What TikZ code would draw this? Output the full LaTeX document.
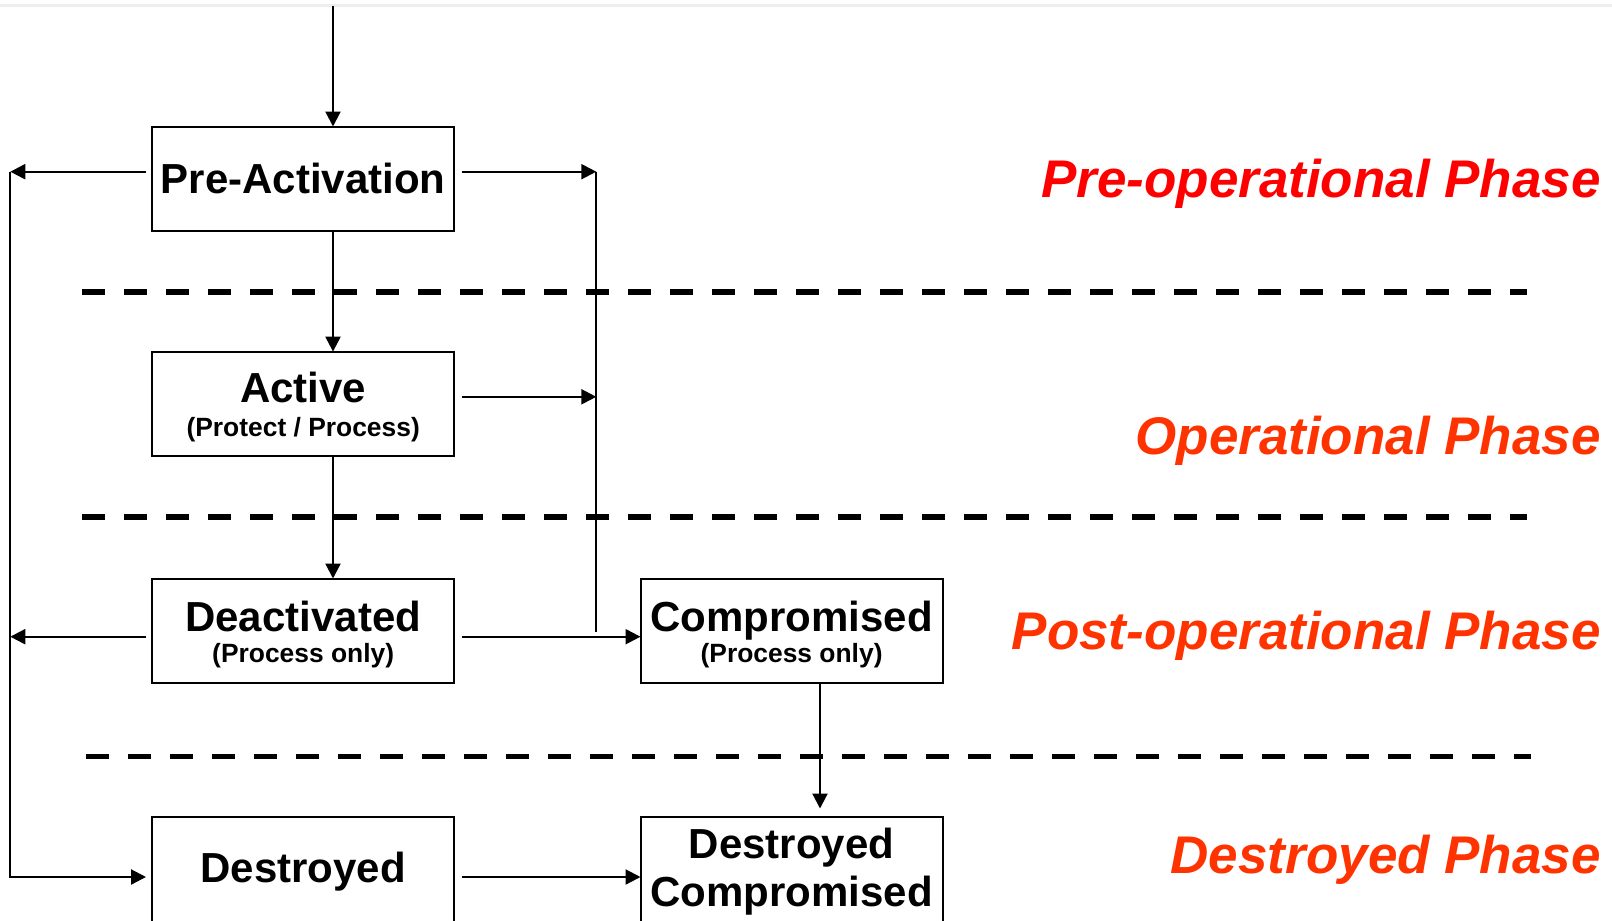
\documentclass[tikz,border=0pt]{standalone}
\usepackage{fontspec}
\setmainfont{Liberation Sans}
\usetikzlibrary{arrows.meta,calc}
\definecolor{prered}{HTML}{FF0000}
\definecolor{phasered}{HTML}{FF3300}
\definecolor{edgegray}{HTML}{EEEEEE}
\begin{document}
\begin{tikzpicture}[x=1pt,y=-1pt,
  statebox/.style={draw=black, line width=2pt, rectangle, inner sep=0pt, outer sep=0pt,
    anchor=north west, minimum width=302.4pt, minimum height=104.8pt},
  title/.style={inner sep=0pt, anchor=base, font=\bfseries\fontsize{42}{48}\selectfont},
  subtitle/.style={inner sep=0pt, anchor=base, font=\bfseries\fontsize{26.4}{30}\selectfont},
  phase/.style={inner sep=0pt, anchor=base east, font=\bfseries\itshape\fontsize{53}{60}\selectfont},
  wire/.style={line width=2.2pt},
  conn/.style={line width=2.2pt, -{Triangle[length=15pt,width=15pt]}},
  divider/.style={line width=5.5pt, dash pattern=on 23pt off 19pt},
]
\useasboundingbox (0,0) rectangle (1612,921);
\fill[white] (0,0) rectangle (1612,921);
\draw[edgegray, line width=3pt] (0,5) -- (1612,5);

% phase dividers
\draw[divider] (82,292) -- (1527,292);
\draw[divider] (82,517) -- (1527,517);
\draw[divider] (86.4,756.7) -- (1531,756.7);

% state boxes
\node[statebox] (pre)   at (152,126.5) {};
\node[statebox] (act)   at (152,351.6) {};
\node[statebox] (deact) at (152,578.5) {};
\node[statebox] (comp)  at (640.5,578.5) {};
\node[statebox] (dest)  at (152,817) {};
\node[statebox] (dcomp) at (640.5,817) {};

% box texts
\node[title]    (preT)    at (303.2,193)   {Pre-Activation};
\node[title]    (actT)    at (303.2,402.7) {Active};
\node[subtitle] (actS)    at (303.2,436.5) {(Protect / Process)};
\node[title]    (deactT)  at (303.2,631)   {Deactivated};
\node[subtitle] (deactS)  at (303.2,662.5) {(Process only)};
\node[title]    (compT)   at (791.6,631)   {Compromised};
\node[subtitle] (compS)   at (791.6,662.5) {(Process only)};
\node[title]    (destT)   at (303.2,882.7) {Destroyed};
\node[title]    (dcompT1) at (791.6,858.3) {Destroyed};
\node[title]    (dcompT2) at (791.6,906.7) {Compromised};

% phase labels
\node[phase, text=prered]   (ph1) at (1601,197)   {Pre-operational Phase};
\node[phase, text=phasered] (ph2) at (1601,454)   {Operational Phase};
\node[phase, text=phasered] (ph3) at (1601,649)   {Post-operational Phase};
\node[phase, text=phasered] (ph4) at (1601,873.5) {Destroyed Phase};

% reference points for the connectors
\coordinate (entry)   at (333,6);
\coordinate (lbus)    at (10.3,0);
\coordinate (rbus)    at (596.3,0);
\coordinate (rbusEnd) at (596.3,632);
\coordinate (preL)    at ($(pre.north west)+(-6,45.2)$);
\coordinate (preR)    at ($(pre.north east)+(7.2,45.2)$);
\coordinate (actR)    at ($(act.north east)+(7.2,45.2)$);
\coordinate (deactL)  at ($(deact.north west)+(-6,58.2)$);
\coordinate (deactR)  at ($(deact.north east)+(7.2,58.2)$);
\coordinate (destL)   at ($(dest.north west)+(-6,60)$);
\coordinate (destR)   at ($(dest.north east)+(7.2,60)$);
\coordinate (compOut) at (820,0);
\coordinate (dcIn)    at ($(dcomp.north)+(0,-8.5)$);

% main vertical flow
\draw[conn] (entry) -- (entry |- pre.north);
\draw[conn] (entry |- pre.south) -- (entry |- act.north);
\draw[conn] (entry |- act.south) -- (entry |- deact.north);

% right-hand bus
\draw[conn] (preR) -- (preR -| rbus);
\draw[conn] (actR) -- (actR -| rbus);
\draw[wire] (preR -| rbus) -- (rbusEnd);

% left-hand bus down to Destroyed
\draw[conn] (preL) -- (preL -| lbus);
\draw[conn] (deactL) -- (deactL -| lbus);
\draw[conn] (preL -| lbus) -- (destL -| lbus) -- (destL);

% compromised paths
\draw[conn] (deactR) -- (deactR -| comp.west);
\draw[conn] (compOut |- comp.south) -- (compOut |- dcIn);
\draw[conn] (destR) -- (destR -| dcomp.west);
\end{tikzpicture}
\end{document}
